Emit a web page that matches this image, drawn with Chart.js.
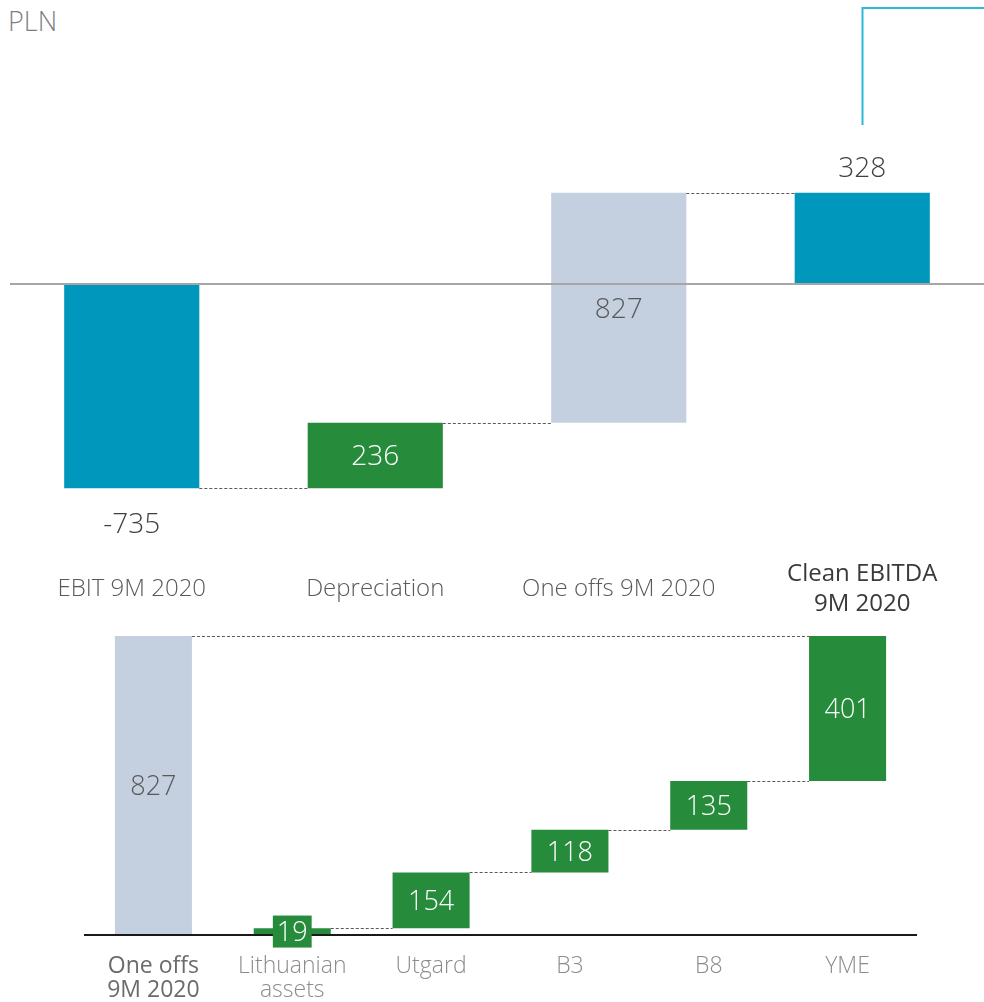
<!DOCTYPE html>
<html>
<head>
<meta charset="utf-8">
<script src="https://cdn.jsdelivr.net/npm/chart.js@4.4.1/dist/chart.umd.min.js"></script>
<style>
    html, body { margin: 0; padding: 0; background: #fff; }
    body { width: 984px; height: 1002px; position: relative; overflow: hidden; font-family: 'Open Sans', sans-serif; }
    #unit { position: absolute; left: 8px; top: 2px; font-size: 27px; font-weight: 300; color: #7f7f7f; }
    #topChart { position: absolute; left: 0; top: 0; }
    #bottomChart { position: absolute; left: 0; top: 610px; }
</style>
</head>
<body>
<div id="unit">PLN</div>
<canvas id="topChart" width="984" height="620"></canvas>
<canvas id="bottomChart" width="984" height="392"></canvas>
<script>
// ==================== Data ====================

const topLabels = ['EBIT 9M 2020', 'Depreciation', 'One offs 9M 2020', ['Clean EBITDA', '9M 2020']];
const topValues = [-735, 236, 827, 328];
const topKinds = ['total', 'step', 'step', 'total'];

const bottomLabels = [['One offs', '9M 2020'], ['Lithuanian', 'assets'], 'Utgard', 'B3', 'B8', 'YME'];
const bottomValues = [827, 19, 154, 118, 135, 401];
const bottomKinds = ['total', 'step', 'step', 'step', 'step', 'step'];

// ==================== Colours ====================

const TEAL = '#0097BD';
const GREEN = '#268C3C';
const PALE = '#C4CFE0';

const topColors = [TEAL, GREEN, PALE, TEAL];
const bottomColors = [PALE, GREEN, GREEN, GREEN, GREEN, GREEN];

const FONT = "'Open Sans', sans-serif";

/**
 * Turn values into floating [start, end] bars.
 * resetAfterTotal: the steps after a total start again from zero (breakdown)
 */
function buildBars(values, kinds, resetAfterTotal) {
    let run = 0;
    return values.map((v, i) => {
        if (kinds[i] === 'total') {
            run = resetAfterTotal ? 0 : v;
            return [0, v];
        }
        const bar = [run, run + v];
        run += v;
        return bar;
    });
}

// ==================== Waterfall plugin ====================

const waterfallPlugin = {
    id: 'waterfall',
    afterDatasetsDraw(chart, args, opts) {
        const ctx = chart.ctx;
        const meta = chart.getDatasetMeta(0);
        const bars = chart.data.datasets[0].data;
        const yScale = chart.scales.y;
        const area = chart.chartArea;

        ctx.save();

        // dashed connectors
        ctx.strokeStyle = '#595959';
        ctx.lineWidth = 1;
        ctx.setLineDash([3, 2]);
        bars.forEach((b, i) => {
            for (let j = i + 1; j < bars.length; j++) {
                if (bars[j][0] === b[1] || bars[j][1] === b[1]) {
                    const py = Math.round(yScale.getPixelForValue(b[1])) + 0.5;
                    ctx.beginPath();
                    ctx.moveTo(meta.data[i].x + meta.data[i].width / 2, py);
                    ctx.lineTo(meta.data[j].x - meta.data[j].width / 2, py);
                    ctx.stroke();
                    break;
                }
            }
        });
        ctx.setLineDash([]);

        // zero line
        const zero = yScale.getPixelForValue(0);
        ctx.strokeStyle = opts.baseColor;
        ctx.lineWidth = 2;
        ctx.beginPath();
        ctx.moveTo(area.left, zero);
        ctx.lineTo(area.right, zero);
        ctx.stroke();

        // value labels
        ctx.font = '300 ' + opts.fontSize + 'px ' + FONT;
        ctx.textAlign = 'center';
        ctx.textBaseline = 'middle';
        bars.forEach((b, i) => {
            const el = meta.data[i];
            const value = opts.values[i];
            const text = String(value);
            const color = opts.colors[i];
            const top = yScale.getPixelForValue(Math.max(b[0], b[1]));
            const bottom = yScale.getPixelForValue(Math.min(b[0], b[1]));

            if (opts.totalsOutside && opts.kinds[i] === 'total') {
                ctx.fillStyle = '#404040';
                if (value < 0) ctx.fillText(text, el.x, bottom + 37);
                else ctx.fillText(text, el.x, top - 24);
                return;
            }

            const mid = (top + bottom) / 2;
            if (bottom - top < opts.fontSize) {
                // bar too thin: put the number on a box of the bar colour
                const w = ctx.measureText(text).width + 8;
                const h = 32;
                ctx.fillStyle = color;
                ctx.fillRect(el.x - w / 2, mid - h / 2, w, h);
            }
            ctx.fillStyle = color === PALE ? '#595959' : '#ffffff';
            ctx.fillText(text, el.x, mid + 2);
        });

        // cyan bracket above the last bar
        if (opts.bracket) {
            const last = meta.data[bars.length - 1];
            const x = Math.round(last.x) + 0.5;
            ctx.strokeStyle = '#2DB8D8';
            ctx.lineWidth = 2;
            ctx.beginPath();
            ctx.moveTo(x, 125);
            ctx.lineTo(x, 8);
            ctx.lineTo(chart.width, 8);
            ctx.stroke();
        }

        ctx.restore();
    }
};

// ==================== Top chart ====================

new Chart(document.getElementById('topChart'), {
    type: 'bar',
    data: {
        labels: topLabels,
        datasets: [{
            data: buildBars(topValues, topKinds, false),
            backgroundColor: topColors,
            borderWidth: 0,
            borderSkipped: false,
            categoryPercentage: 1,
            barPercentage: 0.555
        }]
    },
    options: {
        responsive: false,
        animation: false,
        layout: { padding: { left: 10, right: 0, top: 20, bottom: 0 } },
        plugins: {
            legend: { display: false },
            tooltip: { enabled: false },
            waterfall: {
                values: topValues,
                kinds: topKinds,
                colors: topColors,
                totalsOutside: true,
                baseColor: '#A6A6A6',
                fontSize: 28,
                bracket: true
            }
        },
        scales: {
            x: {
                grid: { display: false, drawTicks: false },
                border: { display: false },
                afterFit: s => { s.height = 72; },
                ticks: {
                    padding: 26,
                    crossAlign: 'center',
                    maxRotation: 0,
                    autoSkip: false,
                    color: ctx => ctx.index === 3 ? '#3a3a3a' : '#595959',
                    font: ctx => ({ family: FONT, size: 24, lineHeight: 1.25, weight: ctx.index === 3 ? '400' : '300' })
                }
            },
            y: { display: false, min: -950, max: 950 }
        }
    },
    plugins: [waterfallPlugin]
});

// ==================== Bottom chart ====================

new Chart(document.getElementById('bottomChart'), {
    type: 'bar',
    data: {
        labels: bottomLabels,
        datasets: [{
            data: buildBars(bottomValues, bottomKinds, true),
            backgroundColor: bottomColors,
            borderWidth: 0,
            borderSkipped: false,
            categoryPercentage: 1,
            barPercentage: 0.555
        }]
    },
    options: {
        responsive: false,
        animation: false,
        layout: { padding: { left: 84, right: 67, top: 10, bottom: 0 } },
        plugins: {
            legend: { display: false },
            tooltip: { enabled: false },
            waterfall: {
                values: bottomValues,
                kinds: bottomKinds,
                colors: bottomColors,
                totalsOutside: false,
                baseColor: '#1a1a1a',
                fontSize: 27,
                bracket: false
            }
        },
        scales: {
            x: {
                grid: { display: false, drawTicks: false },
                border: { display: false },
                afterFit: s => { s.height = 67; },
                ticks: {
                    padding: 19,
                    crossAlign: 'near',
                    maxRotation: 0,
                    autoSkip: false,
                    color: ctx => ctx.index === 0 ? '#6b6b6b' : '#8c8c8c',
                    font: ctx => ({ family: FONT, size: 23, lineHeight: 1.05, weight: ctx.index === 0 ? '400' : '300' })
                }
            },
            y: { display: false, min: 0, max: 871 }
        }
    },
    plugins: [waterfallPlugin]
});
</script>
</body>
</html>
